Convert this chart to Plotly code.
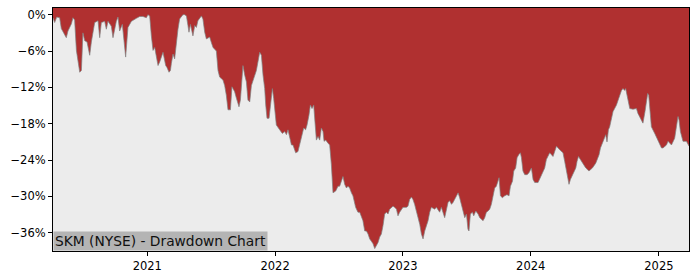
import pandas as pd
import plotly.graph_objects as go

# Decimal-year positions of the drawdown readings
years = [
    2020.263, 2020.276, 2020.292, 2020.315, 2020.328, 2020.354, 2020.367, 2020.380, 2020.407, 2020.419,
    2020.432, 2020.446, 2020.472, 2020.485, 2020.497, 2020.511, 2020.529, 2020.550, 2020.563, 2020.589,
    2020.615, 2020.628, 2020.641, 2020.667, 2020.680, 2020.693, 2020.719, 2020.732, 2020.758, 2020.771,
    2020.784, 2020.805, 2020.831, 2020.849, 2020.876, 2020.915, 2020.941, 2020.966, 2020.993, 2021.005,
    2021.019, 2021.032, 2021.045, 2021.058, 2021.071, 2021.084, 2021.097, 2021.123, 2021.144, 2021.154,
    2021.170, 2021.181, 2021.188, 2021.201, 2021.214, 2021.228, 2021.240, 2021.253, 2021.279, 2021.292,
    2021.306, 2021.318, 2021.326, 2021.337, 2021.347, 2021.357, 2021.371, 2021.384, 2021.396, 2021.410,
    2021.423, 2021.435, 2021.449, 2021.462, 2021.488, 2021.501, 2021.514, 2021.540, 2021.553, 2021.566,
    2021.592, 2021.605, 2021.618, 2021.631, 2021.650, 2021.662, 2021.683, 2021.697, 2021.717, 2021.728,
    2021.740, 2021.748, 2021.762, 2021.775, 2021.787, 2021.801, 2021.814, 2021.826, 2021.853, 2021.879,
    2021.892, 2021.905, 2021.918, 2021.926, 2021.936, 2021.952, 2021.962, 2021.978, 2021.988, 2021.998,
    2022.009, 2022.035, 2022.056, 2022.074, 2022.088, 2022.100, 2022.113, 2022.127, 2022.139, 2022.160,
    2022.178, 2022.197, 2022.213, 2022.223, 2022.238, 2022.249, 2022.264, 2022.275, 2022.288, 2022.301,
    2022.311, 2022.322, 2022.335, 2022.348, 2022.361, 2022.374, 2022.382, 2022.395, 2022.413, 2022.426,
    2022.439, 2022.452, 2022.473, 2022.491, 2022.504, 2022.518, 2022.530, 2022.543, 2022.557, 2022.569,
    2022.582, 2022.596, 2022.608, 2022.629, 2022.647, 2022.661, 2022.674, 2022.686, 2022.700, 2022.713,
    2022.726, 2022.739, 2022.752, 2022.765, 2022.778, 2022.791, 2022.804, 2022.817, 2022.830, 2022.843,
    2022.856, 2022.870, 2022.882, 2022.895, 2022.909, 2022.921, 2022.934, 2022.948, 2022.960, 2022.973,
    2022.999, 2023.026, 2023.038, 2023.051, 2023.065, 2023.077, 2023.090, 2023.104, 2023.116, 2023.130,
    2023.143, 2023.156, 2023.169, 2023.182, 2023.195, 2023.208, 2023.221, 2023.247, 2023.260, 2023.286,
    2023.299, 2023.325, 2023.339, 2023.351, 2023.364, 2023.378, 2023.390, 2023.417, 2023.430, 2023.442,
    2023.456, 2023.468, 2023.482, 2023.495, 2023.507, 2023.515, 2023.526, 2023.542, 2023.552, 2023.568,
    2023.586, 2023.599, 2023.612, 2023.625, 2023.638, 2023.651, 2023.664, 2023.677, 2023.690, 2023.703,
    2023.716, 2023.729, 2023.742, 2023.750, 2023.761, 2023.776, 2023.794, 2023.812, 2023.828, 2023.839,
    2023.855, 2023.865, 2023.880, 2023.891, 2023.904, 2023.917, 2023.925, 2023.937, 2023.951, 2023.969,
    2023.984, 2024.003, 2024.016, 2024.029, 2024.055, 2024.081, 2024.107, 2024.120, 2024.146, 2024.172,
    2024.199, 2024.224, 2024.250, 2024.263, 2024.277, 2024.289, 2024.297, 2024.308, 2024.324, 2024.350,
    2024.360, 2024.371, 2024.386, 2024.402, 2024.428, 2024.453, 2024.480, 2024.506, 2024.519, 2024.532,
    2024.543, 2024.558, 2024.568, 2024.584, 2024.594, 2024.605, 2024.615, 2024.628, 2024.641, 2024.668,
    2024.693, 2024.707, 2024.719, 2024.732, 2024.740, 2024.751, 2024.758, 2024.772, 2024.797, 2024.824,
    2024.836, 2024.863, 2024.875, 2024.891, 2024.902, 2024.912, 2024.920, 2024.928, 2024.941, 2024.967,
    2024.993, 2025.020, 2025.032, 2025.059, 2025.071, 2025.098, 2025.123, 2025.137, 2025.149, 2025.157,
    2025.168, 2025.188, 2025.215, 2025.235,
]

# Drawdown in percent
drawdown = [
    -0.5, -1.3, -0.4, -0.5, -2.3, -3.2, -3.8, -2.7, -1.5, -0.5,
    -0.9, -5.9, -9.5, -9.2, -3.0, -4.3, -4.5, -6.7, -4.5, -1.3,
    -1.0, -3.8, -1.3, -1.1, -2.4, -1.1, -1.9, -3.8, -1.1, -0.4,
    -2.7, -1.6, -7.0, -2.1, -1.1, -0.6, -0.3, -0.3, -0.5, 0.0,
    -0.2, -3.5, -5.9, -5.4, -6.7, -8.4, -7.8, -6.2, -8.4, -8.7,
    -9.5, -9.2, -8.1, -6.5, -7.3, -4.0, -2.4, -0.7, 0.0, 0.0,
    -0.2, -1.8, -2.9, -1.6, -2.7, -3.5, -1.8, -2.1, -1.0, -0.5,
    -0.2, -0.7, -2.9, -4.0, -3.7, -4.6, -5.4, -6.0, -9.2, -10.3,
    -10.8, -11.7, -13.3, -15.7, -15.7, -11.9, -12.7, -13.8, -15.2, -14.1,
    -11.4, -8.4, -10.0, -11.1, -14.1, -14.4, -11.7, -10.8, -9.2, -6.2,
    -6.7, -10.0, -12.2, -14.9, -17.1, -17.1, -14.9, -12.2, -13.8, -16.6,
    -18.2, -19.0, -19.6, -19.3, -19.8, -19.0, -20.1, -21.5, -21.5, -22.8,
    -22.6, -20.9, -19.8, -18.7, -19.0, -18.2, -16.6, -14.9, -15.5, -14.9,
    -17.7, -20.7, -20.1, -20.7, -18.7, -19.3, -20.9, -20.7, -21.2, -21.5,
    -24.7, -29.4, -29.1, -28.3, -28.3, -27.5, -26.7, -28.0, -28.6, -28.3,
    -28.6, -29.4, -29.9, -31.8, -32.6, -32.6, -33.5, -34.0, -35.7, -35.7,
    -36.2, -37.0, -37.4, -37.8, -38.6, -38.1, -37.6, -36.7, -36.2, -34.8,
    -32.9, -32.6, -32.9, -32.1, -31.8, -31.6, -31.8, -32.1, -33.2, -32.6,
    -31.8, -31.8, -31.6, -30.5, -30.1, -30.5, -31.3, -32.4, -33.5, -34.6,
    -36.2, -37.0, -35.7, -34.8, -34.0, -32.6, -31.8, -32.1, -31.8, -32.6,
    -31.8, -33.5, -31.8, -31.0, -30.7, -31.3, -31.0, -29.9, -29.4, -30.2,
    -31.3, -32.6, -33.5, -32.9, -35.4, -35.7, -32.9, -32.6, -33.2, -32.4,
    -32.9, -33.5, -33.7, -34.0, -33.5, -32.6, -32.4, -32.1, -31.3, -29.9,
    -28.6, -28.3, -27.2, -26.9, -29.9, -30.2, -29.9, -29.7, -29.9, -28.3,
    -27.5, -25.8, -25.3, -23.6, -23.1, -22.8, -23.6, -25.8, -26.4, -26.4,
    -26.1, -25.3, -27.2, -27.7, -27.7, -26.4, -25.3, -23.9, -22.8, -23.4,
    -21.7, -22.3, -22.8, -24.2, -25.8, -27.5, -28.0, -27.2, -26.4, -25.3,
    -24.2, -23.4, -23.9, -24.5, -25.3, -25.8, -25.3, -24.5, -23.9, -23.1,
    -22.0, -21.2, -20.4, -19.8, -21.0, -19.0, -18.5, -17.4, -16.0, -14.9,
    -13.3, -12.5, -12.2, -12.5, -12.2, -13.3, -14.4, -15.5, -15.6, -15.5,
    -16.3, -17.4, -17.9, -16.0, -14.4, -13.0, -13.3, -16.0, -18.5, -19.6,
    -20.9, -22.0, -22.0, -21.5, -20.9, -21.5, -20.4, -18.7, -16.8, -17.4,
    -19.3, -20.9, -20.9, -21.7,
]

y_tick_values = [0, -6, -12, -18, -24, -30, -36]
y_tick_labels = ["0%", "\u22126%", "\u221212%", "\u221218%", "\u221224%", "\u221230%", "\u221236%"]
x_tick_years = [2021, 2022, 2023, 2024, 2025]
chart_label = "SKM (NYSE) - Drawdown Chart"


def to_date(y):
    base = pd.Timestamp("2021-01-01")
    return base + pd.Timedelta(days=(y - 2021) * 365.25)


dates = [to_date(y) for y in years]
top = [2.0] * len(dates)

RED = "#B03030"
BG = "#ECECEC"

fig = go.Figure()
fig.add_trace(go.Scatter(x=dates, y=top, mode="lines", line=dict(width=0, color=RED),
                         hoverinfo="skip", showlegend=False))
fig.add_trace(go.Scatter(x=dates, y=drawdown, mode="lines", fill="tonexty", fillcolor=RED,
                         line=dict(color="rgba(128,128,128,0.7)", width=1),
                         showlegend=False))

fig.update_layout(
    width=700, height=280,
    margin=dict(l=53, r=11, t=7, b=28),
    paper_bgcolor="white",
    plot_bgcolor=BG,
    font=dict(family="DejaVu Sans", size=11.5, color="black"),
    annotations=[dict(
        text=chart_label, xref="paper", yref="paper", x=0, y=0,
        xanchor="left", yanchor="bottom", showarrow=False,
        font=dict(family="DejaVu Sans", size=13.8, color="#111111"),
        bgcolor="#B4B4B4", borderpad=1,
    )],
)
fig.update_xaxes(
    range=[dates[0], dates[-1]],
    tickvals=[pd.Timestamp(f"{y}-01-01") for y in x_tick_years],
    ticktext=[str(y) for y in x_tick_years],
    showgrid=False, zeroline=False,
    showline=True, linecolor="black", linewidth=1, mirror=True,
    ticks="outside", ticklen=4, tickcolor="black",
)
fig.update_yaxes(
    range=[-39.0, 1.1],
    tickvals=y_tick_values, ticktext=y_tick_labels,
    showgrid=False, zeroline=False,
    showline=True, linecolor="black", linewidth=1, mirror=True,
    ticks="outside", ticklen=4, tickcolor="black",
)

fig.write_html("out.html")
